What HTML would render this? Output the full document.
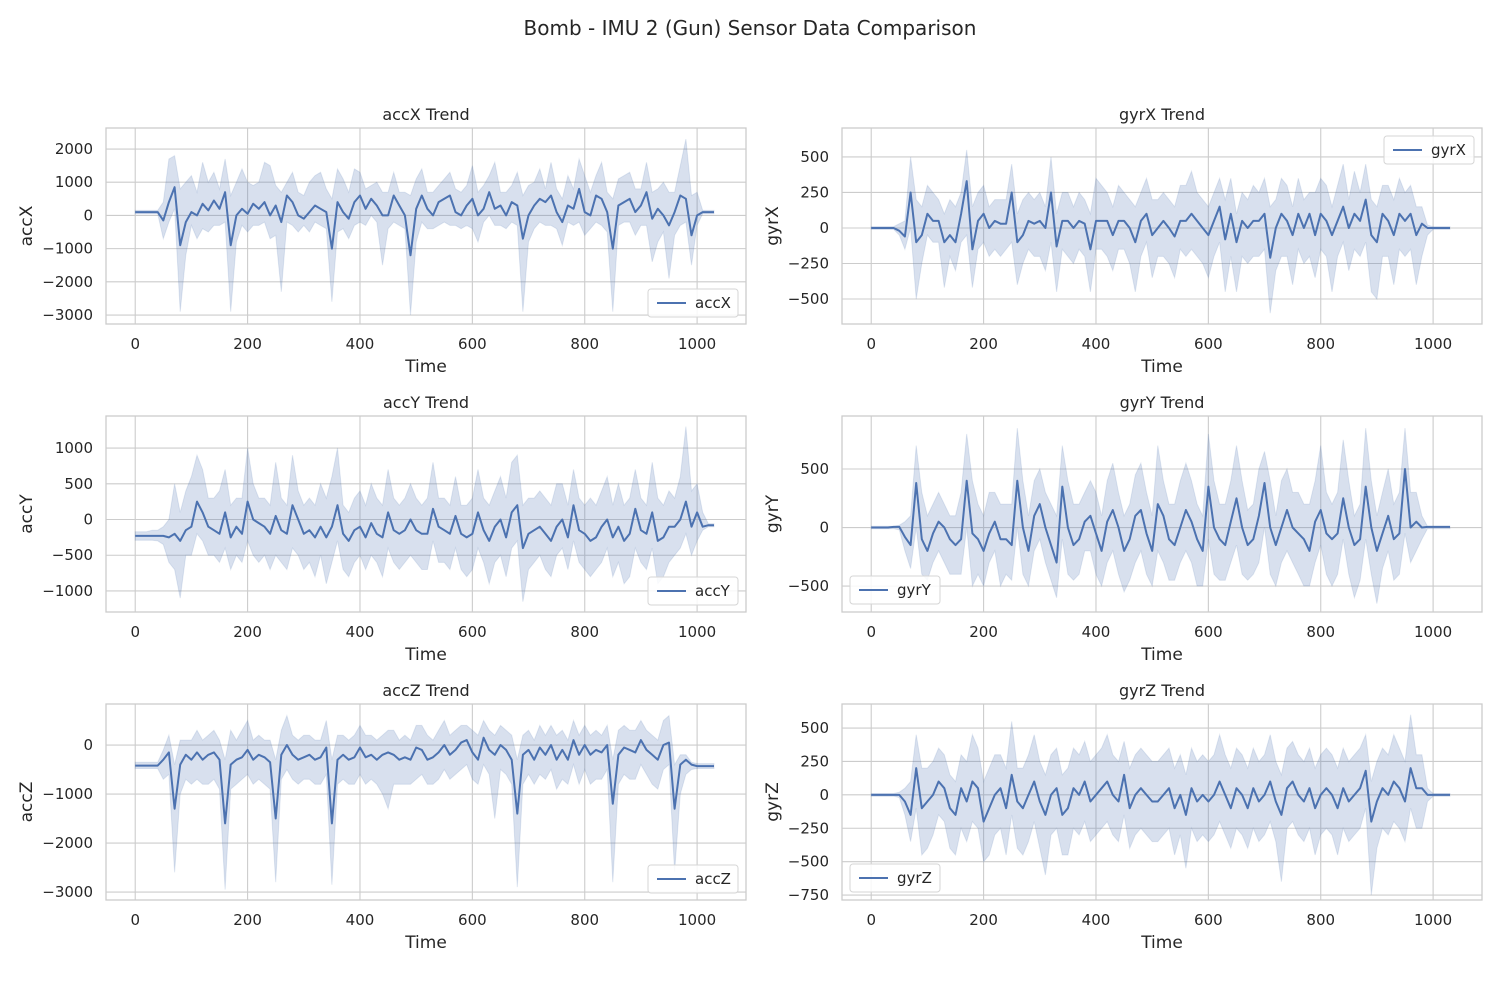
<!DOCTYPE html>
<html><head><meta charset="utf-8"><style>
body{margin:0;background:#fff;}
svg{display:block;font-family:"DejaVu Sans","Liberation Sans",sans-serif;}
</style></head><body>
<svg id="fig" width="1500" height="1000" viewBox="0 0 1500 1000" xmlns="http://www.w3.org/2000/svg">
<rect width="1500" height="1000" fill="#fff"/>
<text x="750" y="35" text-anchor="middle" font-size="20" fill="#262626">Bomb - IMU 2 (Gun) Sensor Data Comparison</text>
</svg>
<script>
const xTicks=[0,200,400,600,800,1000];
const accXMean=[100,100,100,100,100,-150,400,850,-900,-200,100,0,350,150,450,200,700,-900,0,200,50,350,200,400,0,300,-200,600,400,0,-100,100,300,200,100,-1000,400,100,-100,400,600,200,500,300,0,0,600,300,0,-1200,200,600,200,0,400,500,600,100,0,300,500,0,200,700,200,300,0,400,300,-700,0,300,500,400,600,100,-200,300,200,800,100,0,600,500,100,-1000,300,400,500,100,300,700,-100,200,0,-300,100,600,500,-600,0,100,100,100];
const accXHi=[150,150,150,150,150,400,1700,1800,800,1000,1200,700,1600,1000,1300,800,1700,600,1000,1400,1000,900,1000,1600,1500,900,700,1000,1300,700,600,1000,1200,1300,800,500,1400,1100,700,1400,1300,800,900,1000,700,700,1300,700,700,600,1100,1400,700,700,900,1100,1300,800,700,900,1500,700,900,1200,1600,700,700,900,1300,600,900,1000,1400,800,1600,800,500,1200,800,1700,1200,700,1200,1600,700,500,1100,1200,1300,800,800,1600,700,800,1000,700,700,1500,2300,600,700,150,150,150];
const accXLo=[50,50,50,50,50,-700,-200,200,-2900,-1200,-300,-700,-400,-500,-300,-300,-200,-2900,-800,-300,-500,-300,-300,-200,-700,-600,-2300,-200,-300,-500,-300,-500,-200,-300,-400,-2600,-500,-400,-700,-300,-200,-300,0,-200,-1500,-400,-200,-300,-400,-3000,-800,-200,-400,-400,-300,-200,-300,-300,-400,-300,-400,-800,-200,0,-300,-300,-400,-200,-300,-2900,-800,-400,-200,-300,-300,-400,-900,-200,-300,-200,-600,-400,-200,-300,-500,-2900,-300,-200,-200,-600,-300,-300,-1400,-800,-500,-1900,-600,-300,-200,-1500,-300,50,50,50];
const gyrXMean=[0,0,0,0,0,-20,-60,250,-100,-50,100,50,50,-100,-50,-100,100,330,-150,50,100,0,50,30,30,250,-100,-50,50,30,50,0,250,-130,50,50,0,50,30,-150,50,50,50,-50,50,50,0,-100,50,100,-50,0,50,0,-60,50,50,100,50,0,-50,50,150,-80,100,-100,50,0,50,50,100,-210,0,100,50,-50,100,0,100,-50,100,50,-50,50,150,0,100,50,200,-50,-100,100,50,-50,100,50,100,-50,30,0,0,0,0,0];
const gyrXHi=[10,10,10,10,10,30,50,500,200,150,300,250,200,100,200,150,250,550,150,250,300,150,200,200,200,450,100,200,250,200,250,150,500,100,250,250,150,250,200,100,350,300,250,150,300,250,200,150,250,350,200,200,250,200,150,300,300,400,250,200,150,250,350,200,350,100,250,200,300,250,350,150,200,350,300,150,350,200,250,250,350,300,150,300,450,200,400,250,450,200,150,300,300,200,350,250,300,150,150,20,10,10,10,10];
const gyrXLo=[-10,-10,-10,-10,-10,-50,-150,0,-500,-250,-50,-100,-100,-420,-200,-300,-100,-50,-420,-150,-100,-200,-150,-200,-150,-100,-400,-250,-150,-200,-200,-300,-100,-450,-150,-200,-250,-150,-200,-450,-150,-150,-200,-300,-150,-150,-250,-450,-200,-100,-350,-200,-200,-250,-350,-150,-200,-150,-200,-250,-350,-200,-100,-450,-200,-450,-200,-250,-200,-200,-150,-600,-300,-200,-200,-400,-150,-250,-200,-350,-150,-200,-450,-200,-100,-300,-150,-200,-100,-450,-500,-200,-200,-400,-150,-200,-150,-400,-200,-50,-10,-10,-10,-10];
const accYMean=[-230,-230,-230,-230,-230,-230,-250,-200,-300,-150,-100,250,100,-100,-150,-200,100,-250,-100,-200,250,0,-50,-100,-200,50,-150,-200,200,0,-200,-150,-250,-100,-250,-100,200,-200,-300,-150,-100,-250,-50,-200,-250,100,-150,-200,-150,0,-150,-200,-200,150,-100,-150,-200,50,-200,-250,-200,100,-150,-300,-100,0,-250,100,200,-400,-200,-150,-100,-200,-300,-100,0,-250,200,-150,-200,-300,-250,-100,0,-250,-100,-300,-200,150,-150,-200,100,-300,-250,-100,-100,0,250,-100,100,-100,-80,-80];
const accYHi=[-170,-170,-170,-150,-150,-100,0,500,100,400,600,900,700,300,300,400,700,200,300,300,1000,500,300,300,200,800,300,200,900,400,200,300,200,500,300,600,1000,200,100,300,400,200,500,300,200,700,300,200,300,500,300,200,300,800,300,300,200,600,200,200,300,700,300,200,400,600,300,800,900,200,300,300,400,300,200,500,500,200,700,300,200,300,200,400,600,200,500,200,300,700,300,200,800,300,200,400,300,600,1300,400,500,100,-60,-60];
const accYLo=[-290,-290,-290,-290,-300,-350,-600,-700,-1100,-500,-500,-200,-300,-500,-500,-600,-400,-700,-500,-600,-300,-500,-600,-500,-700,-500,-600,-700,-400,-500,-700,-600,-800,-500,-900,-600,-300,-700,-800,-600,-500,-700,-500,-600,-800,-400,-600,-700,-600,-500,-600,-700,-700,-300,-600,-600,-700,-400,-700,-800,-700,-400,-600,-900,-600,-500,-800,-400,-300,-1150,-700,-600,-500,-700,-800,-500,-400,-700,-300,-600,-700,-800,-700,-600,-400,-800,-600,-900,-800,-400,-600,-700,-400,-900,-800,-600,-500,-400,-200,-500,-300,-150,-100,-100];
const gyrYMean=[0,0,0,0,5,5,-80,-150,380,-100,-200,-50,50,0,-100,-150,-100,400,-50,-100,-200,-50,50,-100,-100,-150,400,0,-200,100,200,0,-150,-300,350,0,-150,-100,50,100,-50,-200,50,150,0,-200,-100,100,150,-50,-200,200,100,-100,-150,0,150,50,-100,-200,350,0,-100,-150,50,250,0,-150,-100,100,380,0,-150,0,150,0,-50,-100,-200,50,150,-50,-100,-50,250,0,-150,-100,350,0,-200,-50,100,-100,-50,500,0,50,0,5,5,5,5,5];
const gyrYHi=[10,10,10,10,10,20,50,100,700,300,100,200,300,200,100,100,300,800,400,200,100,300,300,200,200,200,850,400,100,400,500,300,200,100,700,400,200,200,300,400,300,100,400,550,300,100,200,450,550,300,100,700,400,200,200,400,550,400,200,100,800,400,200,200,400,700,400,150,200,500,650,400,100,400,500,300,300,200,200,400,700,300,200,300,750,400,100,200,850,400,100,300,500,200,300,850,300,300,100,10,10,10,10,10];
const gyrYLo=[-10,-10,-10,-10,-10,-20,-200,-350,0,-400,-450,-300,-200,-300,-400,-400,-400,0,-500,-400,-500,-300,-200,-500,-400,-450,0,-400,-500,-200,-100,-300,-450,-600,-100,-400,-450,-400,-200,-200,-400,-500,-300,-200,-400,-550,-450,-300,-200,-400,-500,-200,-300,-450,-450,-300,-200,-300,-500,-500,-100,-400,-450,-450,-300,-150,-400,-450,-400,-300,0,-400,-500,-300,-200,-300,-400,-500,-500,-300,-150,-400,-500,-400,-100,-400,-600,-450,-100,-400,-650,-350,-200,-450,-400,-50,-300,-200,-100,-10,-10,-10,-10,-10];
const accZMean=[-420,-420,-420,-420,-420,-300,-150,-1300,-400,-200,-300,-150,-300,-200,-150,-300,-1600,-400,-300,-250,-100,-300,-200,-250,-350,-1500,-200,0,-200,-300,-250,-200,-300,-250,-50,-1600,-300,-200,-300,-250,-50,-250,-200,-300,-200,-150,-200,-300,-250,-300,-50,-100,-300,-250,-150,0,-200,-100,50,100,-150,-300,150,-100,-200,0,-100,-300,-1400,-200,-100,-300,-50,-200,0,-300,-100,-300,100,-200,0,-200,-100,-150,0,-1200,-200,-50,-100,-150,100,-100,-200,-300,0,50,-1300,-400,-300,-400,-430,-430,-430,-430];
const accZHi=[-350,-350,-350,-350,-350,-100,200,-400,100,100,100,300,100,200,300,100,-300,300,100,300,500,100,200,100,100,-300,300,600,200,100,200,200,100,100,500,-300,200,200,100,200,400,200,200,100,200,300,300,100,200,100,400,400,200,100,300,500,200,300,400,400,300,200,500,300,200,400,300,200,-300,200,300,100,400,200,400,200,300,100,500,200,400,200,300,200,400,-300,300,400,300,300,500,300,200,100,500,600,-400,-200,-200,-350,-380,-380,-380,-380];
const accZLo=[-480,-480,-480,-480,-480,-700,-600,-2600,-1000,-700,-800,-700,-800,-800,-700,-900,-2950,-900,-800,-700,-600,-800,-700,-800,-900,-2800,-700,-500,-700,-800,-700,-700,-800,-800,-600,-2850,-800,-700,-800,-800,-600,-800,-700,-800,-1000,-1300,-800,-800,-800,-800,-700,-600,-800,-800,-700,-500,-700,-600,-500,-400,-700,-800,-400,-600,-1500,-500,-600,-800,-2900,-800,-600,-800,-600,-700,-500,-900,-700,-800,-400,-800,-500,-800,-700,-700,-500,-2800,-800,-600,-700,-700,-400,-600,-800,-900,-500,-400,-2600,-1000,-600,-500,-480,-480,-480,-480];
const gyrZMean=[0,0,0,0,0,0,-50,-150,200,-100,-50,0,100,50,-100,-150,50,-50,100,50,-200,-100,0,50,-100,150,-50,-100,0,100,-50,-150,0,50,-150,-100,50,0,100,-50,0,50,100,0,-50,150,-100,0,50,0,-50,-50,0,50,-100,0,-150,50,-50,0,-50,0,100,0,-100,50,0,-100,50,-50,0,100,-50,-150,50,100,0,-50,50,-100,0,50,0,-100,50,-50,0,50,180,-200,-50,50,0,100,50,-50,200,50,50,0,0,0,0,0];
const gyrZHi=[10,10,10,10,10,20,50,100,450,200,200,250,350,300,150,100,300,250,450,350,100,200,300,300,200,550,200,200,300,450,250,150,300,350,150,200,350,300,400,250,300,350,450,300,250,400,200,300,350,300,250,250,300,350,200,300,150,350,250,300,250,300,450,300,200,350,300,200,350,250,300,450,250,150,350,400,300,250,350,200,300,350,300,200,350,250,300,350,450,100,250,350,300,450,350,250,600,300,300,50,10,10,10,10];
const gyrZLo=[-10,-10,-10,-10,-10,-20,-150,-350,-100,-450,-400,-300,-150,-200,-400,-450,-250,-350,-200,-250,-500,-450,-300,-250,-450,-150,-400,-450,-350,-200,-400,-600,-300,-250,-450,-450,-250,-300,-200,-350,-300,-250,-200,-300,-350,-150,-400,-300,-250,-300,-350,-350,-300,-250,-450,-300,-550,-250,-350,-300,-350,-300,-200,-300,-400,-250,-300,-400,-250,-350,-300,-200,-350,-650,-250,-200,-300,-350,-250,-450,-300,-250,-300,-450,-250,-350,-300,-250,-100,-750,-400,-250,-300,-200,-250,-350,-100,-250,-250,-50,-10,-10,-10,-10];
const accXTicks=[2000,1000,0,-1000,-2000,-3000];
const gyrXTicks=[500,250,0,-250,-500];
const accYTicks=[1000,500,0,-500,-1000];
const gyrYTicks=[500,0,-500];
const accZTicks=[0,-1000,-2000,-3000];
const gyrZTicks=[500,250,0,-250,-500,-750];

const NS='http://www.w3.org/2000/svg';
const svg=document.getElementById('fig');
function mk(tag,attrs,parent){const e=document.createElementNS(NS,tag);for(const k in attrs)e.setAttribute(k,attrs[k]);(parent||svg).appendChild(e);return e;}
function fmt(v){return v<0?'\u2212'+Math.abs(v):String(v);}

const panels=[
 {name:'accX',x0:106,y0:128,mean:accXMean,hi:accXHi,lo:accXLo,ticks:accXTicks,ymin:-3270,ymax:2633,leg:'br'},
 {name:'gyrX',x0:842,y0:128,mean:gyrXMean,hi:gyrXHi,lo:gyrXLo,ticks:gyrXTicks,ymin:-676,ymax:704,leg:'tr'},
 {name:'accY',x0:106,y0:416,mean:accYMean,hi:accYHi,lo:accYLo,ticks:accYTicks,ymin:-1294,ymax:1448,leg:'br'},
 {name:'gyrY',x0:842,y0:416,mean:gyrYMean,hi:gyrYHi,lo:gyrYLo,ticks:gyrYTicks,ymin:-722,ymax:953,leg:'bl'},
 {name:'accZ',x0:106,y0:704,mean:accZMean,hi:accZHi,lo:accZLo,ticks:accZTicks,ymin:-3163,ymax:837,leg:'br'},
 {name:'gyrZ',x0:842,y0:704,mean:gyrZMean,hi:gyrZHi,lo:gyrZLo,ticks:gyrZTicks,ymin:-787,ymax:680,leg:'bl'}
];
const W=640,H=196,XMIN=-52,XMAX=1087;
panels.forEach(p=>{
 const g=mk('g',{});
 
 
 const sx=t=>p.x0+(t-XMIN)/(XMAX-XMIN)*W;
 const sy=v=>p.y0+(p.ymax-v)/(p.ymax-p.ymin)*H;
 const B=p.y0+H;
 xTicks.forEach(t=>{
  const l=mk('line',{x1:sx(t),x2:sx(t),y1:p.y0,y2:B,stroke:'#cccccc','stroke-width':1.1},g);
  
  
  const tx=mk('text',{x:sx(t),y:B+25,'text-anchor':'middle','font-size':15,fill:'#262626'},g);
  
  
  tx.textContent=fmt(t);
 });
 p.ticks.forEach(v=>{
  const l=mk('line',{x1:p.x0,x2:p.x0+W,y1:sy(v),y2:sy(v),stroke:'#cccccc','stroke-width':1.1},g);
  
  
  const tx=mk('text',{x:p.x0-13,y:sy(v)+5,'text-anchor':'end','font-size':15,fill:'#262626'},g);
  
  
  tx.textContent=fmt(v);
 });
 const n=Math.min(p.hi.length,p.lo.length);
 let d='';
 for(let i=0;i<n;i++)d+=(i?'L':'M')+sx(i*10).toFixed(1)+','+sy(p.hi[i]).toFixed(1);
 for(let i=n-1;i>=0;i--)d+='L'+sx(i*10).toFixed(1)+','+sy(p.lo[i]).toFixed(1);
 const band=mk('path',{d:d+'Z',fill:'#4c72b0','fill-opacity':0.22,stroke:'#4c72b0','stroke-opacity':0.15},g);
 
 
 const pts=p.mean.map((v,i)=>sx(i*10).toFixed(1)+','+sy(v).toFixed(1)).join(' ');
 const line=mk('polyline',{points:pts,fill:'none',stroke:'#4c72b0','stroke-width':2,'stroke-linejoin':'round'},g);
 
 
 const fr=mk('rect',{x:p.x0,y:p.y0,width:W,height:H,fill:'none',stroke:'#cccccc','stroke-width':1.3},g);
 
 
 const tt=mk('text',{x:p.x0+W/2,y:p.y0-8,'text-anchor':'middle','font-size':16,fill:'#262626'},g);
 
 
 tt.textContent=p.name+' Trend';
 const xl=mk('text',{x:p.x0+W/2,y:B+48,'text-anchor':'middle','font-size':17,fill:'#262626'},g);
 
 
 xl.textContent='Time';
 const ylx=p.x0-(p.name.startsWith('acc')?74:64);
 const yl=mk('text',{x:ylx,y:p.y0+H/2,'text-anchor':'middle','font-size':17,fill:'#262626',transform:'rotate(-90 '+ylx+' '+(p.y0+H/2)+')'},g);
 
 
 yl.textContent=p.name;
 let lx,ly,lw=90,lh=28;
 if(p.leg==='br'){lx=p.x0+W-lw-8;ly=B-lh-7;}
 else if(p.leg==='tr'){lx=p.x0+W-lw-8;ly=p.y0+8;}
 else {lx=p.x0+8;ly=B-lh-8;}
 const lg=mk('g',{},g);
 
 
 mk('rect',{x:lx,y:ly,width:lw,height:lh,rx:3,fill:'#fff','fill-opacity':0.85,stroke:'#d6d6d6'},lg);
 mk('line',{x1:lx+9,x2:lx+38,y1:ly+lh/2,y2:ly+lh/2,stroke:'#4c72b0','stroke-width':2},lg);
 const lt=mk('text',{x:lx+47,y:ly+lh/2+5,'font-size':15,fill:'#262626'},lg);
 
 
 lt.textContent=p.name;
});
</script>
</body></html>
